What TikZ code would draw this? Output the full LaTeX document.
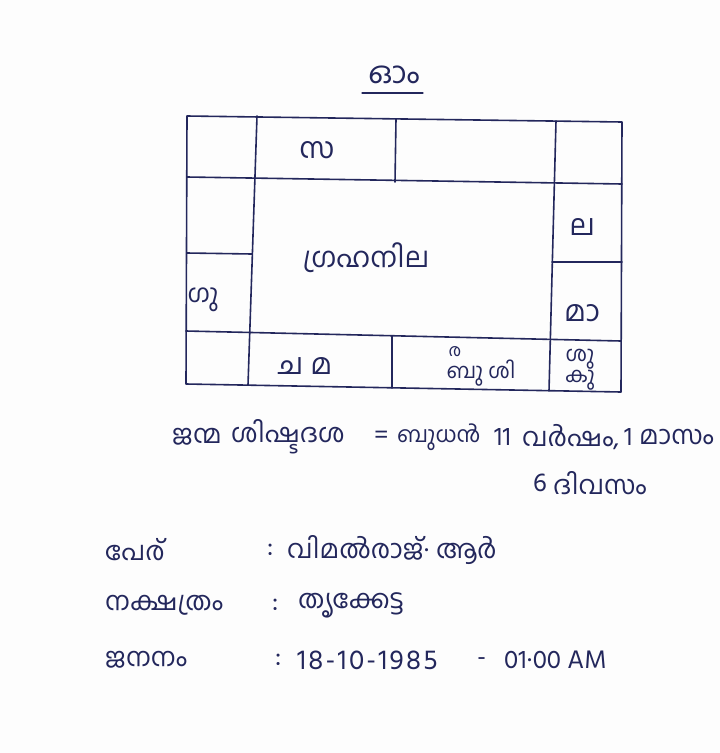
\documentclass[tikz,border=0pt]{standalone}
\usepackage{fontspec}
\usepackage{tikz}
\usetikzlibrary{positioning, calc}
\newfontfamily\mlfont[Script=Malayalam]{Hind Kochi}
\definecolor{inkblue}{HTML}{23275C}
\definecolor{paperbg}{HTML}{FDFDFD}
\tikzstyle{chartline} = [line width=1.6pt, draw=inkblue, line cap=round, line join=round]
\tikzstyle{heading} = [inner sep=0pt, text=inkblue, font=\mlfont\fontsize{30}{32}\selectfont]
\tikzstyle{planet} = [inner sep=0pt, text=inkblue, font=\mlfont\fontsize{29}{31}\selectfont]
\tikzstyle{planetsmall} = [inner sep=0pt, text=inkblue, font=\mlfont\fontsize{21}{23}\selectfont]
\tikzstyle{info} = [anchor=west, inner sep=0pt, text=inkblue, font=\mlfont\fontsize{26}{28}\selectfont]

\begin{document}
\begin{tikzpicture}[x=1pt, y=-1pt]
    \fill[paperbg] (0,0) rectangle (720,753);
    \useasboundingbox (0,0) rectangle (720,753);

    % title
    \node[heading] (om) at (394,75) {ഓം};
    \draw[chartline, line width=1.3pt] (362,93) -- (423,93);

    % chart
    \draw[chartline] (187,116) -- (622,122) -- (621,392) -- (186,384) -- cycle;
    \draw[chartline] (187,177) -- (622,184);
    \draw[chartline] (186,331) -- (621,341);
    \draw[chartline] (257,116) -- (248,385);
    \draw[chartline] (556,121) -- (549,391);
    \draw[chartline] (396,119) -- (395,182);
    \draw[chartline] (392,336) -- (392,388);
    \draw[chartline] (187,253) -- (252,254);
    \draw[chartline] (552,262) -- (622,262);

    \node[planet] (sa) at (317,150) {സ};
    \node[planet, font=\mlfont\fontsize{28}{30}\selectfont] (grahanila) at (366,258) {ഗ്രഹനില};
    \node[planet] (la) at (582,227) {ല};
    \node[planet] (maa) at (582,313) {മാ};
    \node[planet, font=\mlfont\fontsize{25}{27}\selectfont] (gu) at (203,300) {ഗു};
    \node[planet] (chama) at (305,366) {ച മ};
    \node[planetsmall] (bushi) at (481,373) {ബു ശി};
    \node[planetsmall, font=\mlfont\fontsize{17}{19}\selectfont] (ra) at (455,352) {ര};
    \node[planetsmall] (shu) at (580,359) {ശു};
    \node[planetsmall, below=1pt of shu] (ku) {കു};

    % dasa
    \node[info] (janma) at (172,437) {ജന്മ};
    \node[info] (shishta) at (231,437) {ശിഷ്ടദശ};
    \node[info] (eq) at (374,437) {=};
    \node[info, font=\mlfont\fontsize{22}{24}\selectfont] (budha) at (397,437) {ബുധൻ};
    \node[info] (eleven) at (494,437) {11};
    \node[info] (varsham) at (522,437) {വർഷം,};
    \node[info] (one) at (624,437) {1};
    \node[info] (masam) at (639,437) {മാസം};
    \node[info] (six) at (533,483) {6};
    \node[info] (divasam) at (553,483) {ദിവസം};

    % details
    \node[info] (per) at (105,550) {പേര്};
    \node[info] (c1) at (267,550) {:};
    \node[info] (perval) at (287,550) {വിമൽരാജ്· ആർ};
    \node[info] (nakshatram) at (105,605) {നക്ഷത്രം};
    \node[info] (c2) at (272,605) {:};
    \node[info] (nakval) at (298,605) {തൃക്കേട്ട};
    \node[info] (jananam) at (105,660) {ജനനം};
    \node[info] (c3) at (275,660) {:};
    \node[info, font=\mlfont\fontsize{28}{30}\selectfont\addfontfeatures{LetterSpace=8}] (date) at (297,660) {18-10-1985};
    \node[info] (dash) at (477,662) {-};
    \node[info, font=\mlfont\fontsize{26}{28}\selectfont] (time) at (504,660) {01·00 AM};
\end{tikzpicture}
\end{document}
